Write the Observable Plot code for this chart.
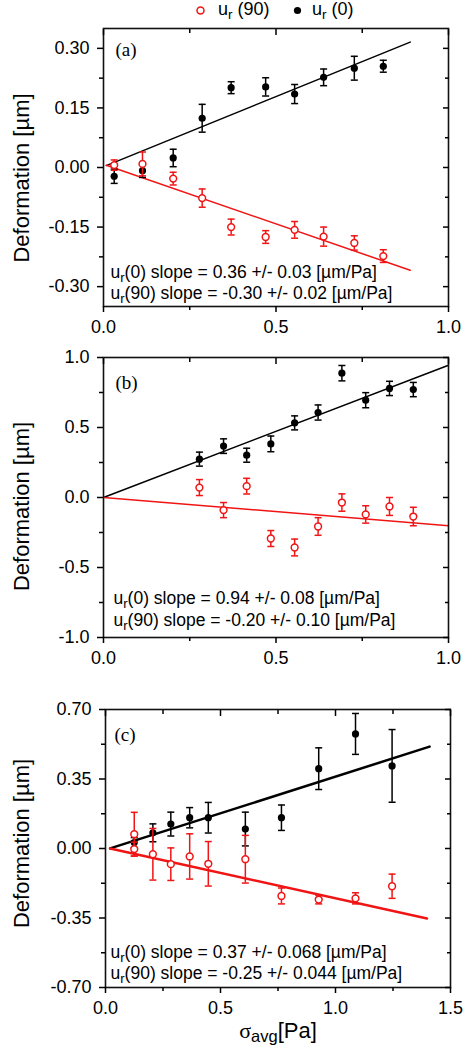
<!DOCTYPE html>
<html>
<head>
<meta charset="utf-8">
<script src="https://cdn.jsdelivr.net/npm/d3@7"></script>
<script src="https://cdn.jsdelivr.net/npm/@observablehq/plot@0.6"></script>
<style>
  body { margin: 0; background: #fff; }
  #wrap { position: relative; width: 469px; height: 1050px; overflow: hidden;
          font-family: Arial, "Liberation Sans", sans-serif; color: #000; }
  .panel { position: absolute; left: 0; }
  .lg { position: absolute; top: -1px; font-size: 18px; line-height: 20px; white-space: nowrap; }
  .lg sub { font-size: 75%; vertical-align: -4px; line-height: 0; }
  .sw { position: absolute; top: 5px; }
</style>
</head>
<body>
<div id="wrap">
  <svg class="sw" style="left:195px" width="11" height="11"><circle cx="5.5" cy="5.5" r="3.5" fill="#fff" stroke="#f01414" stroke-width="1.5"/></svg>
  <div class="lg" style="left:218px">u<sub>r</sub> (90)</div>
  <svg class="sw" style="left:292px" width="11" height="11"><circle cx="5.5" cy="5.5" r="3.6" fill="#000"/></svg>
  <div class="lg" style="left:312px">u<sub>r</sub> (0)</div>
</div>
<script>
// ---------- Panel (a) ----------
const xA      = [0.031, 0.113, 0.202, 0.286, 0.370, 0.470, 0.554, 0.638, 0.727, 0.811];
const ur0A    = [-0.022, -0.008, 0.024, 0.124, 0.201, 0.203, 0.185, 0.227, 0.250, 0.255];
const ur0ErrA = [0.018, 0.017, 0.022, 0.035, 0.015, 0.023, 0.024, 0.021, 0.030, 0.015];
const ur90A    = [0.006, 0.009, -0.028, -0.077, -0.150, -0.175, -0.157, -0.174, -0.190, -0.223];
const ur90ErrA = [0.013, 0.030, 0.016, 0.023, 0.020, 0.016, 0.021, 0.024, 0.018, 0.016];
const fitRangeA = [0.008, 0.889];
const fit0A  = [0.002, 0.353];   // intercept, slope
const fit90A = [0.008, -0.300];
const yTicksA = [-0.30, -0.15, 0.00, 0.15, 0.30];
const yMinorA = [-0.225, -0.075, 0.075, 0.225];
const xTicksA = [0, 0.5, 1.0];
const xMinorA = [0.25, 0.75];
const notesA = ["u_{r}(0) slope = 0.36 +/- 0.03 [µm/Pa]", "u_{r}(90) slope = -0.30 +/- 0.02 [µm/Pa]"];

// ---------- Panel (b) ----------
const xB      = [0.278, 0.348, 0.415, 0.485, 0.554, 0.622, 0.691, 0.760, 0.829, 0.898];
const ur0B    = [0.274, 0.367, 0.302, 0.383, 0.533, 0.607, 0.888, 0.695, 0.779, 0.771];
const ur0ErrB = [0.050, 0.052, 0.050, 0.056, 0.050, 0.054, 0.055, 0.054, 0.051, 0.051];
const ur90B    = [0.071, -0.090, 0.081, -0.293, -0.357, -0.207, -0.036, -0.121, -0.064, -0.136];
const ur90ErrB = [0.057, 0.054, 0.056, 0.057, 0.060, 0.063, 0.062, 0.062, 0.064, 0.066];
const fitRangeB = [0.0, 1.0];
const fit0B  = [0.0, 0.945];
const fit90B = [0.0, -0.202];
const yTicksB = [-1.0, -0.5, 0.0, 0.5, 1.0];
const yMinorB = [-0.75, -0.25, 0.25, 0.75];
const xTicksB = [0, 0.5, 1.0];
const xMinorB = [0.25, 0.75];
const notesB = ["u_{r}(0) slope = 0.94 +/- 0.08 [µm/Pa]", "u_{r}(90) slope = -0.20 +/- 0.10 [µm/Pa]"];

// ---------- Panel (c) ----------
const x0C     = [0.125, 0.206, 0.284, 0.366, 0.447, 0.608, 0.765, 0.927, 1.087, 1.246];
const ur0C    = [0.030, 0.079, 0.123, 0.155, 0.155, 0.098, 0.155, 0.402, 0.577, 0.416];
const ur0ErrC = [0.025, 0.045, 0.060, 0.051, 0.077, 0.085, 0.064, 0.105, 0.103, 0.183];
const x90C     = [0.125, 0.125, 0.206, 0.284, 0.366, 0.447, 0.608, 0.765, 0.927, 1.087, 1.246];
const ur90C    = [0.072, -0.003, -0.029, -0.079, -0.040, -0.077, -0.054, -0.239, -0.257, -0.251, -0.190];
const ur90ErrC = [0.110, 0.035, 0.130, 0.082, 0.114, 0.112, 0.120, 0.040, 0.022, 0.028, 0.061];
const fitRange0C  = [0.02, 1.409];
const fitRange90C = [0.02, 1.398];
const fit0C  = [-0.007, 0.369];
const fit90C = [0.005, -0.256];
const yTicksC = [-0.70, -0.35, 0.00, 0.35, 0.70];
const yMinorC = [-0.525, -0.175, 0.175, 0.525];
const xTicksC = [0, 0.5, 1.0, 1.5];
const xMinorC = [0.25, 0.75, 1.25];
const notesC = ["u_{r}(0) slope = 0.37 +/- 0.068 [µm/Pa]", "u_{r}(90) slope = -0.25 +/- 0.044 [µm/Pa]"];

const yLabel = "Deformation [µm]";
const xLabel = "σ_{avg}[Pa]";
const RED = "#f01414";
const BLACK = "#000";

// ---------- helpers ----------
const capSymbol = {
  draw(ctx, size) { const r = Math.sqrt(size / Math.PI); ctx.moveTo(-r, 0); ctx.lineTo(r, 0); }
};
const rows = (xs, ys, es) => xs.map((x, i) => ({x, y: ys[i], e: es[i]}));
const fitRows = (range, fit) => range.map(x => ({x, y: fit[0] + fit[1] * x}));
const blank = () => "";

function series(data, color, open) {
  return [
    Plot.ruleX(data, {x: "x", y1: d => d.y - d.e, y2: d => d.y + d.e, stroke: color, strokeWidth: 1.5}),
    Plot.dot(data, {x: "x", y: d => d.y - d.e, symbol: capSymbol, r: 3.5, stroke: color, fill: "none", strokeWidth: 1.5}),
    Plot.dot(data, {x: "x", y: d => d.y + d.e, symbol: capSymbol, r: 3.5, stroke: color, fill: "none", strokeWidth: 1.5}),
    open
      ? Plot.dot(data, {x: "x", y: "y", r: 3.4, fill: "#fff", stroke: color, strokeWidth: 1.5})
      : Plot.dot(data, {x: "x", y: "y", r: 3.6, fill: color, stroke: "none"})
  ];
}

function richText(svg) {
  svg.querySelectorAll("text").forEach(t => {
    if (t.querySelector("tspan")) return;
    const s = t.textContent;
    if (!s.includes("_{")) return;
    const fs = parseFloat(getComputedStyle(t).fontSize) || 17;
    const parts = s.split(/_\{([^}]*)\}/);
    t.textContent = "";
    const NS = "http://www.w3.org/2000/svg";
    parts.forEach((p, i) => {
      if (!p) return;
      if (i % 2 === 1) {
        const ts = document.createElementNS(NS, "tspan");
        ts.setAttribute("baseline-shift", (-0.2 * fs).toFixed(1));
        ts.setAttribute("font-size", (0.75 * fs).toFixed(1));
        ts.textContent = p;
        t.appendChild(ts);
      } else {
        let rest = p;
        if (rest.startsWith("σ")) {
          const g = document.createElementNS(NS, "tspan");
          g.setAttribute("font-family", "'Liberation Serif', 'Times New Roman', serif");
          g.textContent = "σ";
          t.appendChild(g);
          rest = rest.slice(1);
        }
        if (rest) {
          const ts = document.createElementNS(NS, "tspan");
          ts.textContent = rest;
          t.appendChild(ts);
        }
      }
    });
  });
}

function panel(o) {
  const svg = Plot.plot({
    width: 469, height: o.height,
    marginTop: o.mt, marginBottom: o.mb, marginLeft: o.ml, marginRight: o.mr,
    x: {domain: o.xDomain},
    y: {domain: o.yDomain},
    style: {fontFamily: "Arial, 'Liberation Sans', sans-serif", fontSize: "18px", background: "transparent", color: "#000"},
    marks: [
      Plot.line(o.fit0, {x: "x", y: "y", stroke: BLACK, strokeWidth: o.fitWidth}),
      Plot.line(o.fit90, {x: "x", y: "y", stroke: RED, strokeWidth: o.fitWidth}),
      ...series(o.d0, BLACK, false),
      ...series(o.d90, RED, true),
      Plot.frame({stroke: "#111", strokeWidth: 1.6}),
      Plot.axisY(o.yTicks, {anchor: "left", tickSize: 6, tickPadding: 8, tickFormat: o.yFmt, fontSize: 18, strokeWidth: 1.5, label: null}),
      Plot.axisY(o.yMinor, {anchor: "left", tickSize: 4, tickFormat: blank, strokeWidth: 1.5, label: null}),
      Plot.axisY(o.yTicks, {anchor: "right", tickSize: -6, tickFormat: blank, strokeWidth: 1.5, label: null}),
      Plot.axisY(o.yMinor, {anchor: "right", tickSize: -4, tickFormat: blank, strokeWidth: 1.5, label: null}),
      Plot.axisX(o.xTicks, {anchor: "bottom", tickSize: 6, tickPadding: 8, tickFormat: d => d.toFixed(1), fontSize: 18, strokeWidth: 1.5, label: null}),
      Plot.axisX(o.xMinor, {anchor: "bottom", tickSize: 4, tickFormat: blank, strokeWidth: 1.5, label: null}),
      Plot.axisX(o.xTicks, {anchor: "top", tickSize: -6, tickFormat: blank, strokeWidth: 1.5, label: null}),
      Plot.axisX(o.xMinor, {anchor: "top", tickSize: -4, tickFormat: blank, strokeWidth: 1.5, label: null}),
      Plot.text([o.tag], {text: d => d, frameAnchor: "top-left", textAnchor: "start", lineAnchor: "middle",
        dx: o.tagDx, dy: o.tagDy, fontSize: 19, fontFamily: "'Liberation Serif', 'Times New Roman', serif"}),
      Plot.text([o.notes[0]], {text: d => d, frameAnchor: "bottom-left", textAnchor: "start", lineAnchor: "middle",
        dx: o.noteDx, dy: o.noteDy[0], fontSize: 17.5}),
      Plot.text([o.notes[1]], {text: d => d, frameAnchor: "bottom-left", textAnchor: "start", lineAnchor: "middle",
        dx: o.noteDx, dy: o.noteDy[1], fontSize: 17.5}),
      Plot.text([yLabel], {text: d => d, frameAnchor: "left", rotate: -90, textAnchor: "middle", lineAnchor: "middle",
        dx: 21.5 - o.ml, dy: o.yLabDy, fontSize: 22}),
      ...(o.xLab ? [Plot.text([xLabel], {text: d => d, frameAnchor: "bottom", textAnchor: "middle", lineAnchor: "middle",
        dy: 43, fontSize: 22})] : [])
    ]
  });
  svg.classList.add("panel");
  svg.style.top = o.top + "px";
  svg.style.position = "absolute";
  document.getElementById("wrap").appendChild(svg);
  richText(svg);
}

panel({
  top: 20, height: 320, mt: 8, mb: 34, ml: 103, mr: 21,
  xDomain: [0, 1], yDomain: [-0.35, 0.35],
  fit0: fitRows(fitRangeA, fit0A), fit90: fitRows(fitRangeA, fit90A), fitWidth: 1.5,
  d0: rows(xA, ur0A, ur0ErrA), d90: rows(xA, ur90A, ur90ErrA),
  yTicks: yTicksA, yMinor: yMinorA, xTicks: xTicksA, xMinor: xMinorA, yFmt: d => d.toFixed(2),
  tag: "(a)", tagDx: 12, tagDy: 21,
  notes: notesA, noteDx: 7, noteDy: [-34.5, -13.5], yLabDy: 10.5
});

panel({
  top: 340, height: 340, mt: 17, mb: 43, ml: 103, mr: 21,
  xDomain: [0, 1], yDomain: [-1, 1],
  fit0: fitRows(fitRangeB, fit0B), fit90: fitRows(fitRangeB, fit90B), fitWidth: 1.5,
  d0: rows(xB, ur0B, ur0ErrB), d90: rows(xB, ur90B, ur90ErrB),
  yTicks: yTicksB, yMinor: yMinorB, xTicks: xTicksB, xMinor: xMinorB, yFmt: d => d.toFixed(1),
  tag: "(b)", tagDx: 12, tagDy: 25.5,
  notes: notesB, noteDx: 10, noteDy: [-39.5, -17.5], yLabDy: 9
});

panel({
  top: 690, height: 360, mt: 19, mb: 63, ml: 105, mr: 19,
  xDomain: [0, 1.5], yDomain: [-0.70, 0.70],
  fit0: fitRows(fitRange0C, fit0C), fit90: fitRows(fitRange90C, fit90C), fitWidth: 2.5,
  d0: rows(x0C, ur0C, ur0ErrC), d90: rows(x90C, ur90C, ur90ErrC),
  yTicks: yTicksC, yMinor: yMinorC, xTicks: xTicksC, xMinor: xMinorC, yFmt: d => d.toFixed(2),
  tag: "(c)", tagDx: 9, tagDy: 25,
  notes: notesC, noteDx: 5, noteDy: [-35.5, -14.5], yLabDy: -5, xLab: true
});
</script>
</body>
</html>
